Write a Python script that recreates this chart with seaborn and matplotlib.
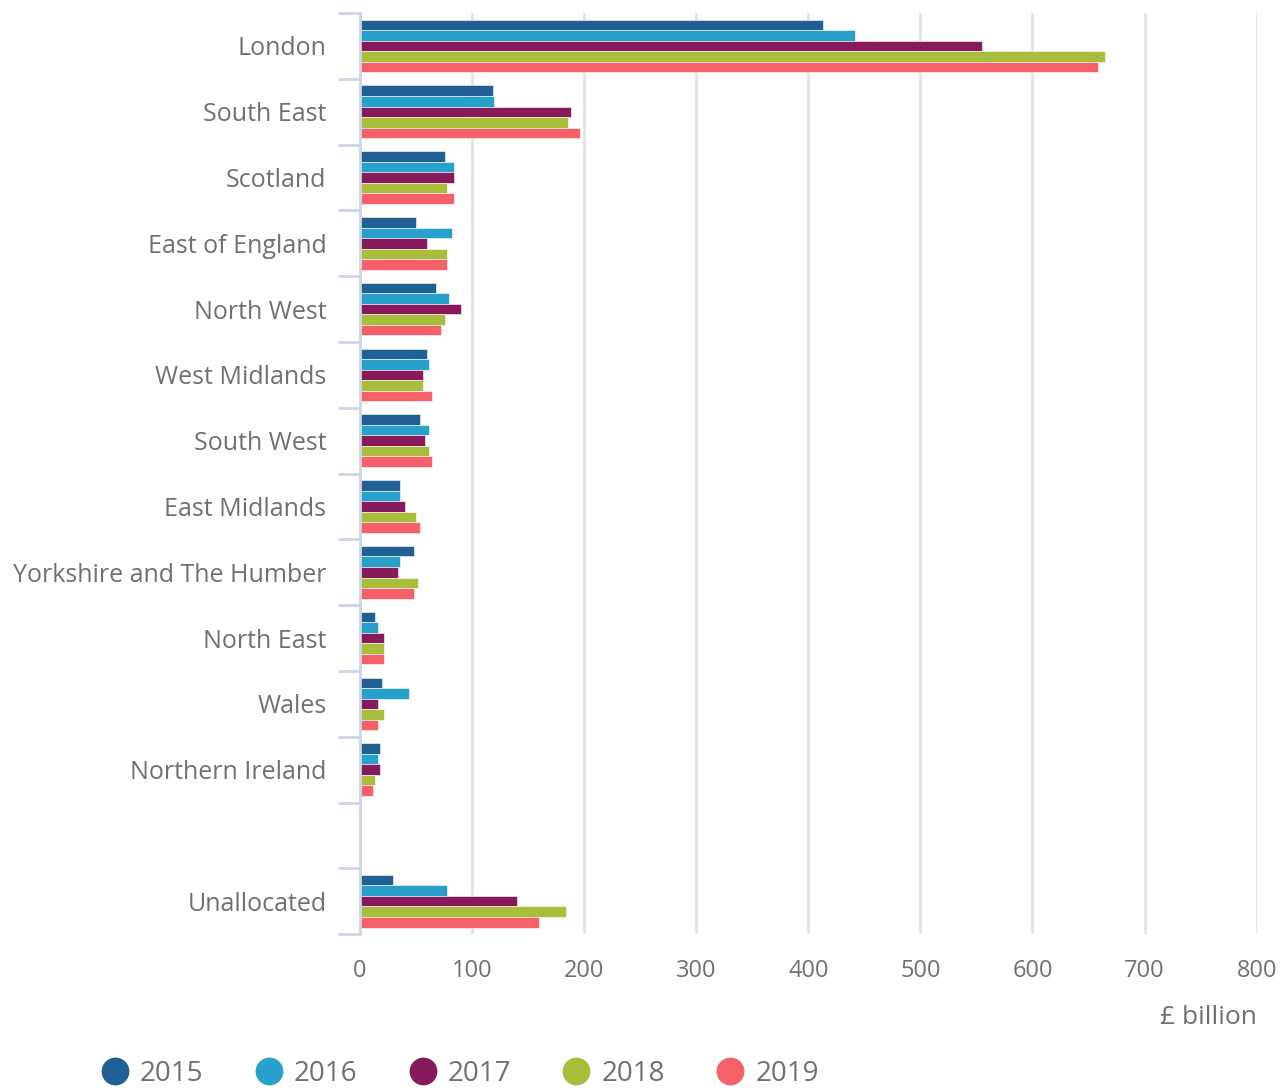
import matplotlib
matplotlib.use("Agg")
import matplotlib.pyplot as plt
from matplotlib.lines import Line2D
import seaborn as sns
import pandas as pd
import numpy as np

regions = ["London", "South East", "Scotland", "East of England", "North West",
           "West Midlands", "South West", "East Midlands", "Yorkshire and The Humber",
           "North East", "Wales", "Northern Ireland", "Unallocated"]
years = ["2015", "2016", "2017", "2018", "2019"]

v2015 = [413, 119, 76, 50, 68, 60, 54, 36, 48, 14, 20, 18, 30]
v2016 = [442, 120, 84, 82, 80, 62, 62, 36, 36, 16, 44, 16, 78]
v2017 = [555, 188, 84, 60, 90, 56, 58, 40, 34, 22, 16, 18, 140]
v2018 = [665, 186, 78, 78, 76, 56, 62, 50, 52, 22, 22, 14, 184]
v2019 = [658, 196, 84, 78, 72, 64, 64, 54, 48, 22, 16, 12, 160]

colors = ["#206095", "#27a0cc", "#871a5b", "#a8bd3a", "#f66068"]

# order has an empty slot before Unallocated
order = regions[:-1] + [" "] + ["Unallocated"]

rows = []
for yr, vals in zip(years, [v2015, v2016, v2017, v2018, v2019]):
    for r, v in zip(regions, vals):
        rows.append({"region": r, "year": yr, "value": v})
df = pd.DataFrame(rows)

sns.set_theme(style="white")
plt.rcParams['font.family'] = ['Open Sans', 'DejaVu Sans']
txt = "#707070"

fig = plt.figure(figsize=(12.85, 10.9), dpi=100)
ax = fig.add_axes([0.280, 0.143, 0.698, 0.845])

sns.barplot(data=df, y="region", x="value", hue="year", order=order,
            hue_order=years, palette=colors, orient="h", width=0.8,
            saturation=1, edgecolor="white", linewidth=0.4, legend=False, ax=ax)

ax.set_xlim(0, 800)
ax.set_ylim(len(order) - 0.5, -0.5)
ax.set_xticks(range(0, 801, 100))
ax.xaxis.grid(True, color="#e3e3e3", linewidth=2)
ax.set_axisbelow(True)

for s in ["top", "right", "bottom"]:
    ax.spines[s].set_visible(False)
ax.spines["left"].set_color("#cdd6e8")
ax.spines["left"].set_linewidth(2)

ax.set_yticks(range(len(order)))
ax.set_yticklabels(order)
ax.set_yticks(np.arange(-0.5, len(order), 1.0), minor=True)
ax.tick_params(axis="y", which="major", left=True, length=0, pad=24, labelsize=18, labelcolor=txt)
ax.tick_params(axis="y", which="minor", left=True, length=15.5, width=2, color="#cdd6e8")
ax.tick_params(axis="x", length=0, pad=18, labelsize=17, labelcolor=txt)

ax.set_ylabel("")
ax.set_xlabel("£ billion", fontsize=19, color=txt, loc="right", labelpad=16)

handles = [Line2D([0], [0], marker="o", linestyle="", markersize=19,
                  markerfacecolor=c, markeredgecolor=c) for c in colors]
fig.legend(handles, years, loc="lower left", bbox_to_anchor=(0.057, -0.021),
           ncol=5, frameon=False, fontsize=20, labelcolor=txt,
           handletextpad=0.3, columnspacing=1.75, handlelength=1.2)

fig.savefig("out.png", dpi=100)
